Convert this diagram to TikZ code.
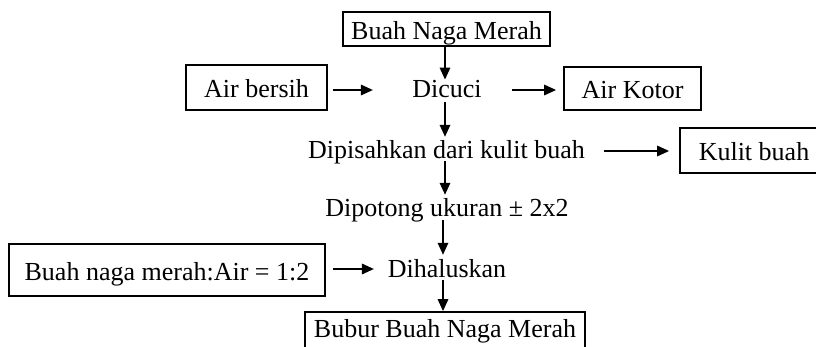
\documentclass[tikz,border=0pt]{standalone}
\usepackage{fontspec}
\setmainfont{Liberation Serif}
\usetikzlibrary{arrows.meta,calc}
\begin{document}
\begin{tikzpicture}[x=1pt,y=-1pt,
  every node/.style={font=\fontsize{26}{30}\selectfont, inner sep=0pt},
  box/.style={draw, line width=1.8pt, text height=22pt, text depth=1pt},
  txt/.style={anchor=base},
  arr/.style={line width=1.7pt, -{Triangle[length=12pt,width=10.5pt]}}]
\useasboundingbox (0,0) rectangle (816,347);
\clip (0,0) rectangle (816,347);
% boxes
\node[box, minimum width=207pt, minimum height=34pt] (top) at (446.5,29) {Buah Naga Merah};
\node[box, minimum width=141pt, minimum height=45pt] (airb) at (256.5,87.5) {Air bersih};
\node[box, minimum width=137pt, minimum height=43pt] (airk) at (632.5,88.5) {Air Kotor};
\node[box, minimum width=148pt, minimum height=45pt] (kulit) at (754,150.5) {Kulit buah};
\node[box, minimum width=316pt, minimum height=52pt] (ratio) at (167,270) {Buah naga merah:Air = 1:2};
\node[draw, line width=1.8pt, text height=14pt, text depth=2pt, minimum width=280pt, minimum height=38pt] (bubur) at (445,331) {Bubur Buah Naga Merah};
% process texts
\node[txt] (dicuci) at (447,98) {Dicuci};
\node[txt] (dipis) at (446.5,159) {Dipisahkan dari kulit buah};
\node[txt] (dipot) at (447,217) {Dipotong ukuran ± 2x2};
\node[txt] (dihal) at (447,277) {Dihaluskan};
% vertical arrows
\draw[arr] ($(top.south)+(-1.5,0)$) -- ($(top.south |- dicuci.north)+(-1.5,-1)$);
\draw[arr] ($(dicuci.base)+(-2,4)$) -- ($(dicuci.base |- dipis.north)+(-2,-4)$);
\draw[arr] ($(dipis.base)+(-1.5,2)$) -- ($(dipis.base |- dipot.north)+(-1.5,-4)$);
\draw[arr] ($(dipot.base)+(-4,3)$) -- ($(dipot.base |- dihal.north)+(-4,-4)$);
\draw[arr] ($(dihal.base)+(-4,3)$) -- ($(dihal.base |- bubur.north)+(-4,0)$);
% horizontal arrows
\draw[arr] ($(airb.east)+(5,2.5)$) -- ++(40,0);
\draw[arr] ($(airk.west)+(-51,1.5)$) -- ($(airk.west)+(-7,1.5)$);
\draw[arr] ($(kulit.west)+(-75,0.5)$) -- ($(kulit.west)+(-10,0.5)$);
\draw[arr] ($(ratio.east)+(7,-1)$) -- ++(41,0);
\end{tikzpicture}
\end{document}
